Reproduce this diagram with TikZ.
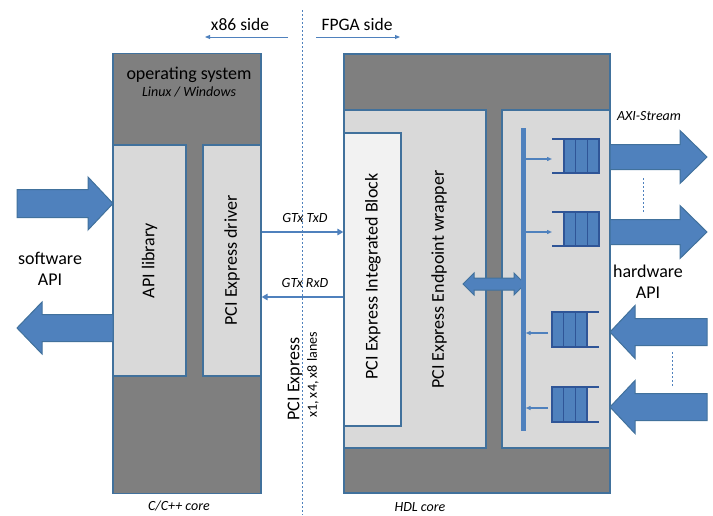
\documentclass[tikz,border=0pt]{standalone}
\usepackage{fontspec}
\setmainfont{Carlito}
\usetikzlibrary{arrows.meta}
\definecolor{bblue}{HTML}{4F81BD}
\definecolor{bline}{HTML}{41719C}
\definecolor{dline}{HTML}{2F5597}
\definecolor{dgray}{HTML}{7F7F7F}
\definecolor{lgray}{HTML}{D9D9D9}
\definecolor{vlgray}{HTML}{F2F2F2}
\tikzset{
  darkbox/.style={draw=bline, line width=1.3pt, fill=dgray, inner sep=0pt},
  lightbox/.style={draw=bline, line width=1.3pt, fill=lgray, inner sep=0pt},
  whitebox/.style={draw=bline, line width=1.3pt, fill=vlgray, inner sep=0pt},
  biglbl/.style={font=\fontsize{18}{21}\selectfont, align=center, inner sep=0pt},
  smalllbl/.style={font=\fontsize{14}{16}\selectfont\itshape, inner sep=0pt},
  thinarrow/.style={draw=bblue, line width=1.4pt, -{Triangle[length=6pt,width=6.5pt]}},
  sidearrow/.style={draw=bblue, line width=0.9pt, -{Triangle[length=5pt,width=4pt]}},
  bigarrow/.style={fill=bblue, draw=bline, line width=1pt, line join=miter},
  dashedline/.style={draw=bblue, line width=0.7pt, dash pattern=on 2pt off 2pt},
  fifocell/.style={fill=bblue, draw=dline, line width=1.2pt},
}
\begin{document}
\begin{tikzpicture}[x=1pt, y=-1pt]
\useasboundingbox (0,0) rectangle (713,515);

% centre dashed line
\coordinate (ctop) at (302,10);
\coordinate (cbot) at (302,515);
\draw[dashedline] (ctop) -- (cbot);

% side labels
\node[biglbl, font=\fontsize{17.5}{20}\selectfont] (x86) at (240,24) {x86 side};
\node[biglbl, font=\fontsize{17.5}{20}\selectfont] (fpga) at (357,24) {FPGA side};
\coordinate (x86a) at (288,37); \coordinate (x86b) at (205,37);
\coordinate (fpa) at (316,37); \coordinate (fpb) at (400,37);
\draw[sidearrow] (x86a) -- (x86b);
\draw[sidearrow] (fpa) -- (fpb);

% left host box
\node[darkbox, minimum width=148pt, minimum height=440pt] (os) at (187,273.5) {};
\node[biglbl] (ostxt) at (189,75) {operating system};
\node[smalllbl] (lintxt) at (189,92) {Linux / Windows};
\node[lightbox, minimum width=73pt, minimum height=231pt] (api) at (149.5,260.5) {};
\node[biglbl, rotate=90] (apitxt) at (149.5,260.5) {API library};
\node[lightbox, minimum width=58pt, minimum height=231pt] (drv) at (232,260.5) {};
\node[biglbl, rotate=90] (drvtxt) at (232,260.5) {PCI Express driver};
\node[smalllbl] (cpp) at (179,506) {C/C++ core};

% software API arrows
\fill[bigarrow] (17,189.5) -- (88,189.5) -- (88,177) -- (113,203.5) -- (88,230) -- (88,217.5) -- (17,217.5) -- cycle;
\fill[bigarrow] (113,314.5) -- (42,314.5) -- (42,302) -- (17,328) -- (42,354) -- (42,341.5) -- (113,341.5) -- cycle;
\node[biglbl] (swapi) at (50,269) {software\\API};

% FPGA box
\node[darkbox, minimum width=266pt, minimum height=439pt] (fpgabox) at (477,273.5) {};
\node[lightbox, minimum width=142pt, minimum height=338pt] (wrap) at (415,279) {};
\node[whitebox, minimum width=57pt, minimum height=293pt] (ib) at (372.5,279.5) {};
\node[biglbl, rotate=90] (ibtxt) at (373,276.5) {PCI Express Integrated Block};
\node[biglbl, rotate=90] (wraptxt) at (439,279.5) {PCI Express Endpoint wrapper};
\node[lightbox, minimum width=108pt, minimum height=338pt] (rbox) at (556,279) {};
\node[smalllbl] (hdl) at (420,507) {HDL core};

% GTx links
\coordinate (tx) at (300,232);
\coordinate (rx) at (300,297);
\draw[thinarrow] (drv.east |- tx) -- (ib.west |- tx);
\draw[thinarrow] (ib.west |- rx) -- (drv.east |- rx);
\node[smalllbl] (txl) at (305,218) {GTx TxD};
\node[smalllbl] (rxl) at (305,283) {GTx RxD};
\node[biglbl, rotate=90] (pcie) at (295,379) {PCI Express};
\node[rotate=90, inner sep=0pt, font=\fontsize{14}{16}\selectfont] (lanes) at (313,375) {x1, x4, x8 lanes};

% double arrow
\fill[bigarrow] (463,284) -- (474,273) -- (474,278) -- (514,278) -- (514,273) -- (525,284) -- (514,295) -- (514,290) -- (474,290) -- (474,295) -- cycle;

% vertical bus bar
\node[fill=bblue, inner sep=0pt, minimum width=5pt, minimum height=303pt] (bus) at (523,279.5) {};

% output FIFOs (open left)
\foreach \n/\yy in {o1/139, o2/212}{
  \foreach \i in {0,1,2}{
    \draw[fifocell] ({564+\i*11.67},\yy) rectangle ({564+(\i+1)*11.67},\yy+34);
  }
  \draw[dline, line width=1.2pt] (552,\yy) -- (564,\yy);
  \draw[dline, line width=1.2pt] (552,\yy+34) -- (564,\yy+34);
  \coordinate (\n) at (552,\yy+20);
  \draw[sidearrow, line width=1.6pt] (bus.east |- \n) -- (\n);
}
% input FIFOs (open right)
\foreach \n/\yy in {i1/312, i2/387}{
  \foreach \i in {0,1,2}{
    \draw[fifocell] ({552+\i*11.67},\yy) rectangle ({552+(\i+1)*11.67},\yy+35);
  }
  \draw[dline, line width=1.2pt] (587,\yy) -- (599,\yy);
  \draw[dline, line width=1.2pt] (587,\yy+35) -- (599,\yy+35);
  \coordinate (\n) at (548,\yy+21);
  \draw[sidearrow, line width=1.6pt] (\n) -- (bus.east |- \n);
}

% hardware arrows
\foreach \c in {157,232}{
  \fill[bigarrow] (610,\c-12.5) -- (680,\c-12.5) -- (680,\c-26.5) -- (707,\c) -- (680,\c+26.5) -- (680,\c+12.5) -- (610,\c+12.5) -- cycle;
}
\foreach \c in {332,407}{
  \fill[bigarrow] (707,\c-13.5) -- (635,\c-13.5) -- (635,\c-26.5) -- (610,\c) -- (635,\c+26.5) -- (635,\c+13.5) -- (707,\c+13.5) -- cycle;
}
\coordinate (d1a) at (643,178); \coordinate (d1b) at (643,212);
\coordinate (d2a) at (672,352); \coordinate (d2b) at (672,387);
\draw[dashedline, line width=0.6pt] (d1a) -- (d1b);
\draw[dashedline, line width=0.6pt] (d2a) -- (d2b);
\node[smalllbl] (axi) at (649,116) {AXI-Stream};
\node[biglbl] (hwapi) at (648,282) {hardware\\API};
\end{tikzpicture}
\end{document}
